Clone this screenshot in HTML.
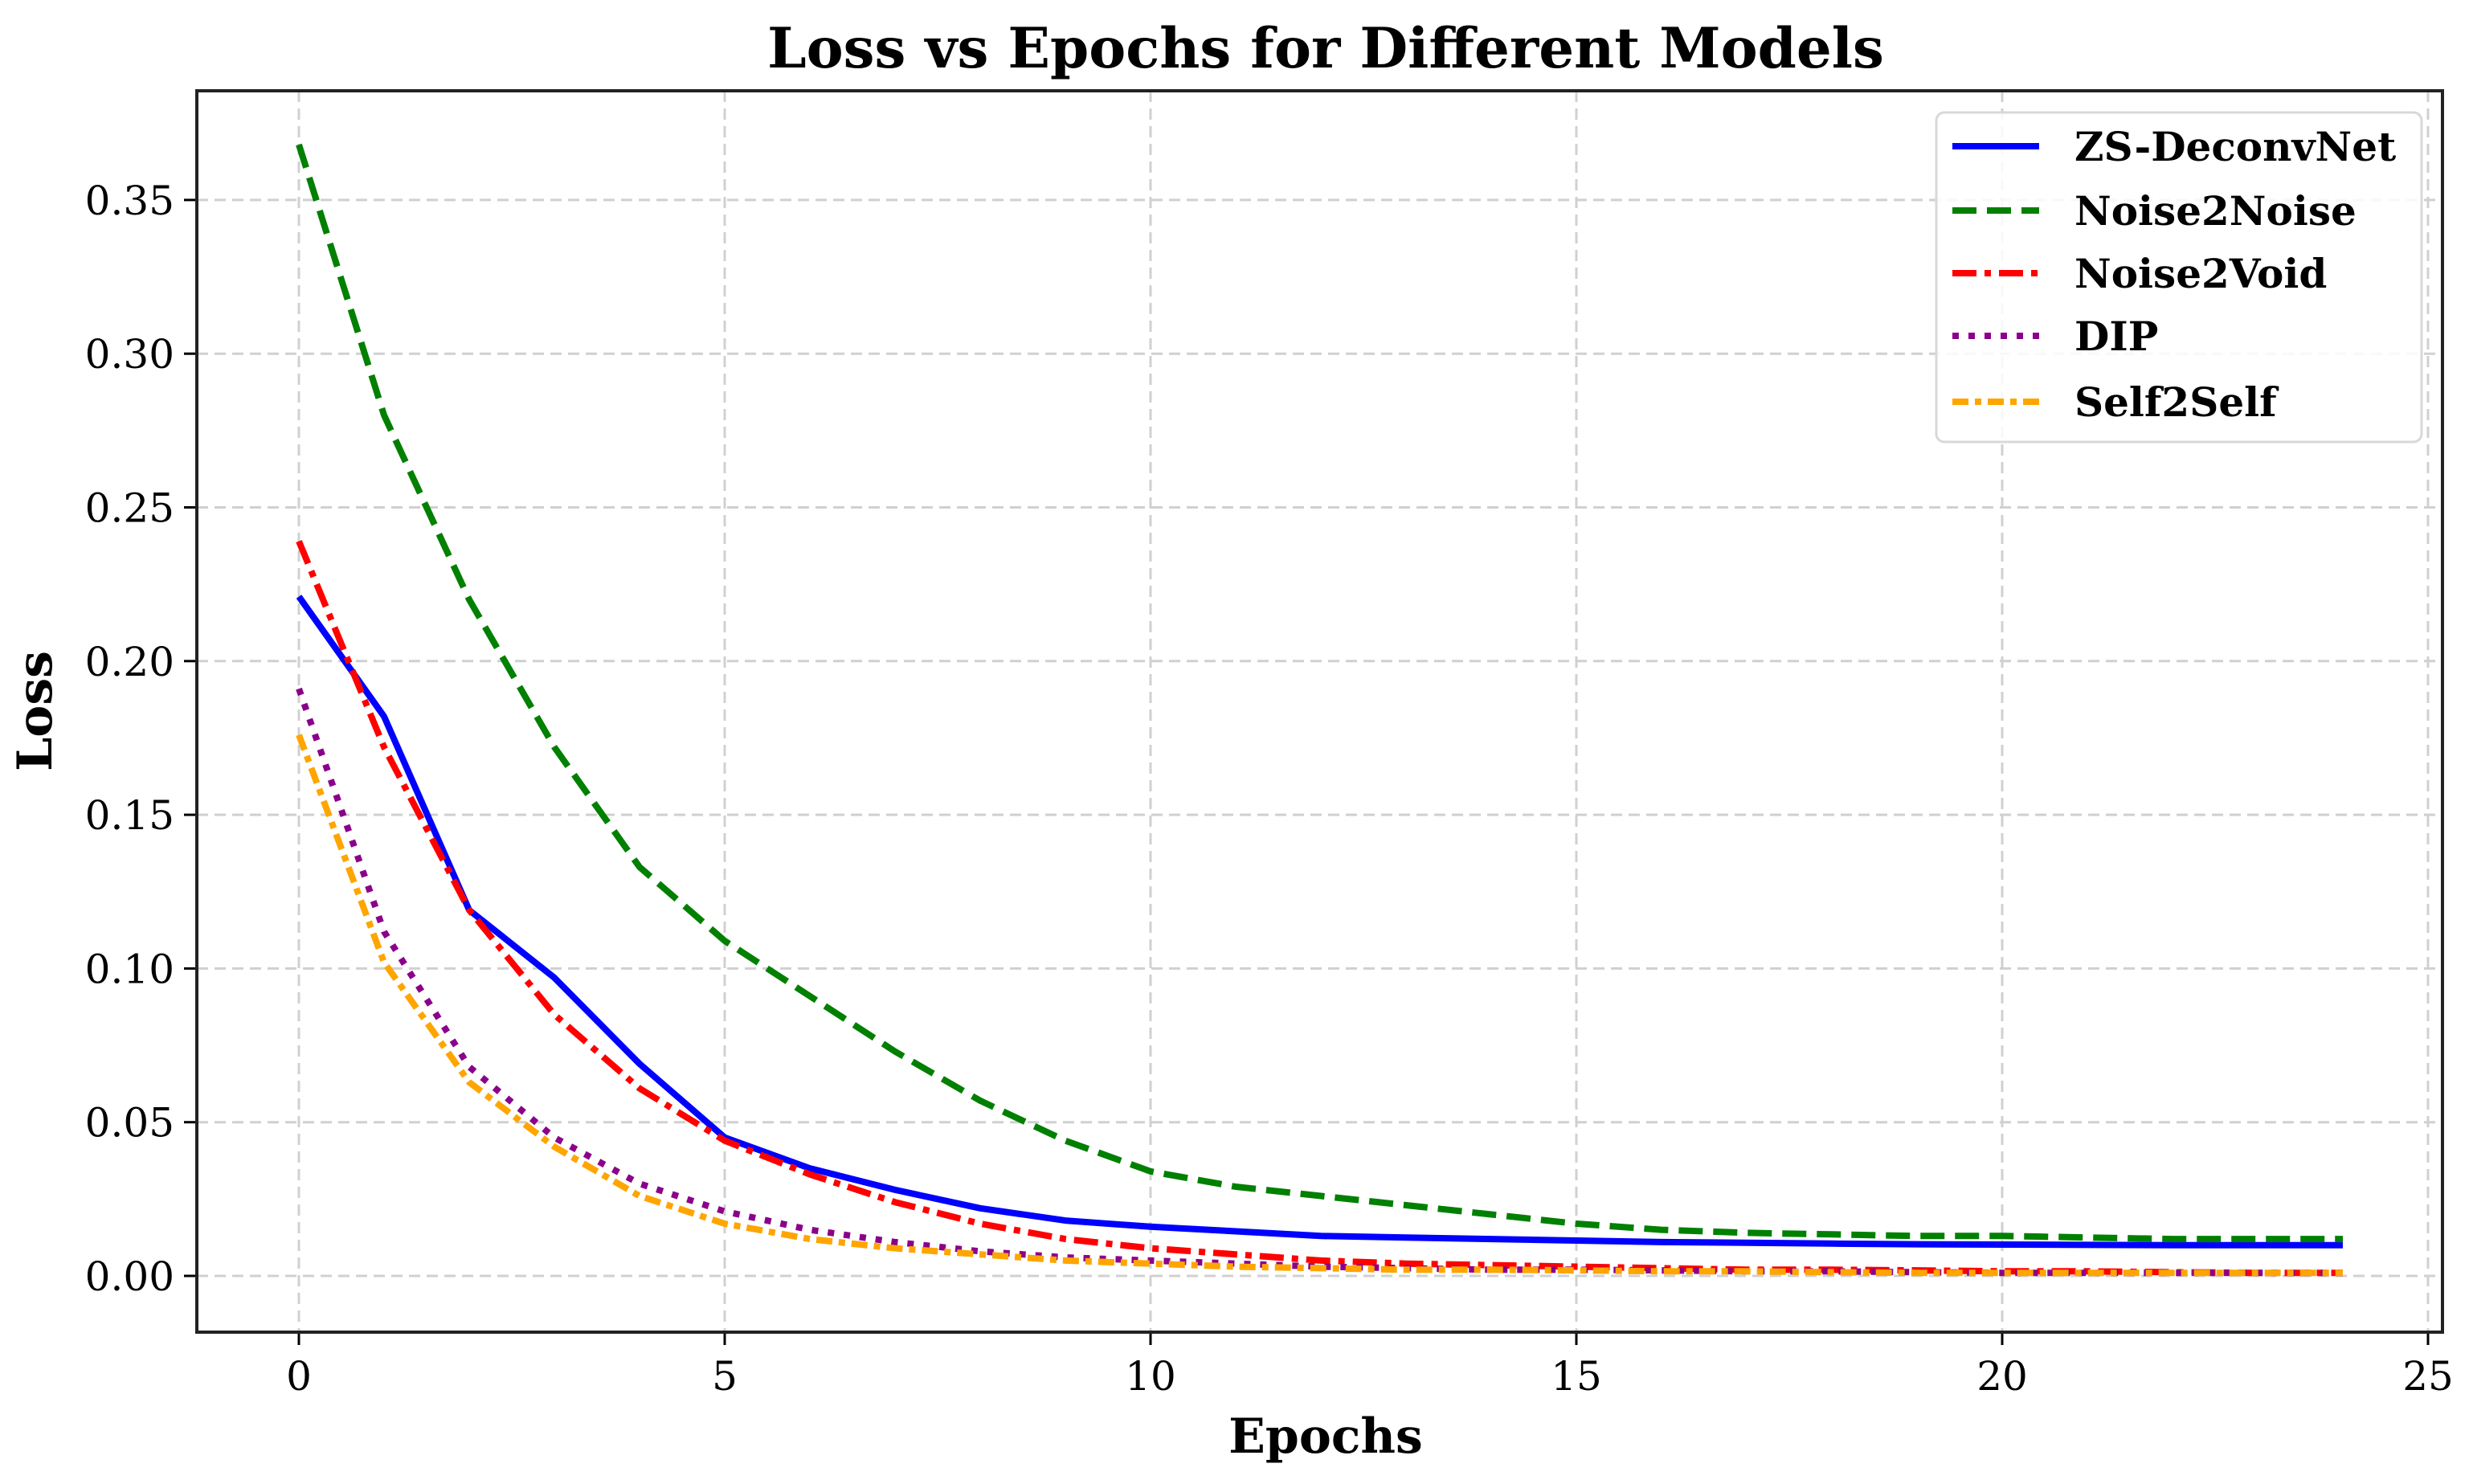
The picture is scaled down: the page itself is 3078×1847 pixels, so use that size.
<!DOCTYPE html>
<html><head><meta charset="utf-8"><style>html,body{margin:0;padding:0;background:#fff}svg{display:block}</style></head>
<body>
<svg id="chart" width="3078" height="1847" xmlns="http://www.w3.org/2000/svg" font-family="'DejaVu Serif','Liberation Serif',serif">
<text x="1650" y="84" text-anchor="middle" font-size="69" font-weight="bold">Loss vs Epochs for Different Models</text>
<g id="grid"></g>
<g id="axes"></g>
<g id="series"></g>
<text x="1650" y="1808" text-anchor="middle" font-size="60" font-weight="bold">Epochs</text>
<text transform="translate(64,885) rotate(-90)" text-anchor="middle" font-size="60" font-weight="bold">Loss</text>
<g id="legend"></g>
</svg>
<script>
const epochs = [0,1,2,3,4,5,6,7,8,9,10,11,12,13,14,15,16,17,18,19,20,21,22,23,24];
const zsDeconvNet = [0.221,0.182,0.119,0.097,0.069,0.045,0.035,0.028,0.022,0.018,0.016,0.0145,0.013,0.0125,0.012,0.0115,0.011,0.0108,0.0105,0.0103,0.0102,0.0101,0.010,0.010,0.010];
const noise2Noise = [0.368,0.280,0.220,0.172,0.133,0.109,0.091,0.073,0.057,0.044,0.034,0.029,0.026,0.023,0.020,0.017,0.015,0.014,0.0135,0.013,0.013,0.0125,0.012,0.012,0.012];
const noise2Void = [0.239,0.172,0.119,0.085,0.061,0.044,0.033,0.024,0.017,0.012,0.009,0.007,0.005,0.004,0.0035,0.003,0.0025,0.002,0.002,0.0018,0.0015,0.0015,0.0012,0.001,0.001];
const dip = [0.191,0.112,0.068,0.045,0.030,0.021,0.015,0.011,0.008,0.006,0.005,0.004,0.003,0.0025,0.002,0.002,0.0018,0.0015,0.0015,0.0012,0.001,0.001,0.001,0.001,0.001];
const self2Self = [0.176,0.102,0.063,0.042,0.026,0.017,0.012,0.009,0.007,0.005,0.004,0.003,0.0025,0.002,0.002,0.0018,0.0015,0.0015,0.0012,0.001,0.001,0.001,0.001,0.001,0.001];
const xTicks = [0,5,10,15,20,25];
const yTicks = [0,0.05,0.10,0.15,0.20,0.25,0.30,0.35];
const yTickLabels = ["0.00","0.05","0.10","0.15","0.20","0.25","0.30","0.35"];
const seriesNames = ["ZS-DeconvNet","Noise2Noise","Noise2Void","DIP","Self2Self"];

const NS="http://www.w3.org/2000/svg";
const L=245,R=3040,T=113,B=1658;
const X=v=>372+v*106;
const Y=v=>1588-v*3826;
function mk(tag,attrs,parent){const e=document.createElementNS(NS,tag);for(const k in attrs)e.setAttribute(k,attrs[k]);parent.appendChild(e);return e;}
const grid=document.getElementById('grid'),axes=document.getElementById('axes'),ser=document.getElementById('series'),leg=document.getElementById('legend');
xTicks.forEach(t=>{
  const g=mk('line',{x1:X(t),x2:X(t),y1:T,y2:B,stroke:'#d0d0d0','stroke-width':3,'stroke-dasharray':'14 8'},grid);
  
  
  const k=mk('line',{x1:X(t),x2:X(t),y1:B,y2:B+16,stroke:'#000','stroke-width':3},axes);
  
  
  const tx=mk('text',{x:X(t),y:B+72,'text-anchor':'middle','font-size':50},axes);
  tx.textContent=t;
  
  
});
yTicks.forEach((t,i)=>{
  const g=mk('line',{x1:L,x2:R,y1:Y(t),y2:Y(t),stroke:'#d0d0d0','stroke-width':3,'stroke-dasharray':'14 8'},grid);
  
  
  const k=mk('line',{x1:L-16,x2:L,y1:Y(t),y2:Y(t),stroke:'#000','stroke-width':3},axes);
  
  
  const tx=mk('text',{x:L-28,y:Y(t)+18,'text-anchor':'end','font-size':50},axes);
  tx.textContent=yTickLabels[i];
  
  
});
const frame=mk('rect',{x:L,y:T,width:R-L,height:B-T,fill:'none',stroke:'#222','stroke-width':4},axes);


const styles=[
 {c:'#0000ff',d:''},
 {c:'#008000',d:'30 13'},
 {c:'#ff0000',d:'30 10 8 10'},
 {c:'#8b008b',d:'8 12'},
 {c:'#ffa500',d:'20 8 8 8'}];
const data=[zsDeconvNet,noise2Noise,noise2Void,dip,self2Self];
const sNames=['zs-deconvnet-line','noise2noise-line','noise2void-line','dip-line','self2self-line'];
data.forEach((arr,si)=>{
  const p=arr.map((v,i)=>(i?'L':'M')+X(epochs[i]).toFixed(1)+' '+Y(v).toFixed(1)).join(' ');
  const a={d:p,fill:'none',stroke:styles[si].c,'stroke-width':8,'stroke-linejoin':'round'};
  if(styles[si].d)a['stroke-dasharray']=styles[si].d;
  const e=mk('path',a,ser);
  
  
});
const box=mk('rect',{x:2410,y:140,width:604,height:410,rx:10,fill:'#fff','fill-opacity':0.85,stroke:'#d8d8d8','stroke-width':3},leg);


const ly=[182,262,340,418,500];
seriesNames.forEach((n,i)=>{
  const a={x1:2430,x2:2538,y1:ly[i],y2:ly[i],stroke:styles[i].c,'stroke-width':8};
  if(styles[i].d)a['stroke-dasharray']=styles[i].d;
  const h=mk('line',a,leg);
  
  
  const t=mk('text',{x:2582,y:ly[i]+18,'font-size':50,'font-weight':'bold'},leg);
  t.textContent=n;
  
  
});
</script>
</body></html>
